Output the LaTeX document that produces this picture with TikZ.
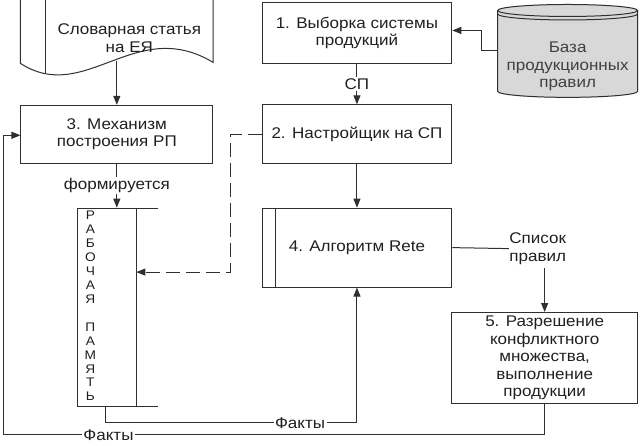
\documentclass[tikz,border=0pt]{standalone}
\usepackage{fontspec}
\setmainfont{Liberation Sans}[FakeStretch=1.1]
\usetikzlibrary{arrows.meta}
\definecolor{lc}{HTML}{303030}
\definecolor{tc}{HTML}{202020}
\definecolor{dbfill}{HTML}{D8D8D8}
\newcommand\txtfont{\fontsize{15.5}{17.5}\selectfont}
\newcommand\wsfont{\fontsize{12.5}{14}\selectfont}
\begin{document}
\begin{tikzpicture}[x=1pt,y=-1pt,
  line width=1pt,
  every path/.style={draw=lc},
  arr/.style={draw=lc,-{Triangle[length=9pt,width=7pt]}},
  box/.style={draw=lc,fill=white,align=center,font=\txtfont,text=tc,inner sep=2pt},
  lab/.style={fill=white,font=\txtfont,text=tc,inner sep=1.5pt,align=center},
  plain/.style={font=\txtfont,text=tc,align=center,inner sep=0pt}]
\useasboundingbox (0,0) rectangle (644,445);
\fill[white] (0,0) rectangle (644,445);

% document shape
\draw[fill=white] (20,-3) -- (20,63) .. controls (85,105) and (135,15) .. (213,62) -- (213,-3);
\draw (45,-3) -- (45,72.5);
\node[plain] (doc) at (129,37.5) {Словарная статья\\на ЕЯ};
\coordinate (docb) at (116.5,61);

% database cylinder
\fill[dbfill] (498,10) -- (498,91) arc[start angle=180,end angle=0,x radius=70,y radius=6]
  -- (638,10) arc[start angle=0,end angle=-180,x radius=70,y radius=6] -- cycle;
\draw (498,10) -- (498,91) arc[start angle=180,end angle=0,x radius=70,y radius=6] -- (638,10);
\draw (568,10) ellipse[x radius=70,y radius=6];
\draw (498,13.5) arc[start angle=180,end angle=0,x radius=70,y radius=6];
\node[minimum width=140pt,minimum height=94pt,inner sep=0pt] (db) at (568,50) {};
\node[plain,text=black!75] (dbt) at (568,66) {База\\продукционных\\правил};

% boxes
\node[box,minimum width=190pt,minimum height=61pt] (b1) at (357,32.5) {1. Выборка системы\\продукций};
\node[box,minimum width=190pt,minimum height=59pt] (b2) at (357,134) {2. Настройщик на СП};
\node[box,minimum width=192pt,minimum height=58pt] (b3) at (116.5,134) {3. Механизм\\построения РП};
\node[box,minimum width=190pt,minimum height=79pt] (b4) at (357,247.5) {4. Алгоритм Rete};
\draw (b4.north west) ++(14,0) -- ++(0,79);
\node[box,minimum width=186pt,minimum height=91pt] (b5) at (545,358) {5. Разрешение\\конфликтного\\множества,\\выполнение\\продукции};

% working memory
\node[minimum width=59pt,minimum height=199pt,inner sep=0pt] (ws) at (106.5,307.5) {};
\draw (158,208) -- (77,208) -- (77,407) -- (158,407);
\draw (136,208) -- (136,407);
\node[font=\wsfont,text=tc,align=center,inner sep=0pt,anchor=north] (wst) at (90,210)
  {Р\\А\\Б\\О\\Ч\\А\\Я\\[14pt]П\\А\\М\\Я\\Т\\Ь};
\coordinate (wsin) at (136,272);
\coordinate (wsb) at (105,407);

% connectors
\draw[arr] (docb) -- (b3.north);
\draw[arr] (db.west) -- (482,50) -- (482,30) -- (b1.east |- 0,30);
\draw[arr] (b1.south) -- node[lab] {СП} (b2.north);
\draw[arr] (b2.south) -- (b4.north);
\draw[arr] (b3.south) -- node[lab] {формируется} (ws.north -| b3.south);
\draw[arr,dash pattern=on 14pt off 6pt] (b2.west) -- (230,134) -- (230,272) -- (wsin);
\node[plain] (sp) at (538,248.5) {Список\\правил};
\draw (b4.east) -- (sp.west);
\draw[arr] (sp.south -| b5.north) ++(0,3) -- (b5.north);
\draw[arr] (wsb) -- (105,423) -- node[lab,pos=0.774] {Факты} (357,423) -- (b4.south);
\draw[arr] (b5.south) -- (545,435) -- node[lab,pos=0.806] {Факты} (3,435) -- (3,135) -- (b3.west |- 0,135);
\end{tikzpicture}
\end{document}
